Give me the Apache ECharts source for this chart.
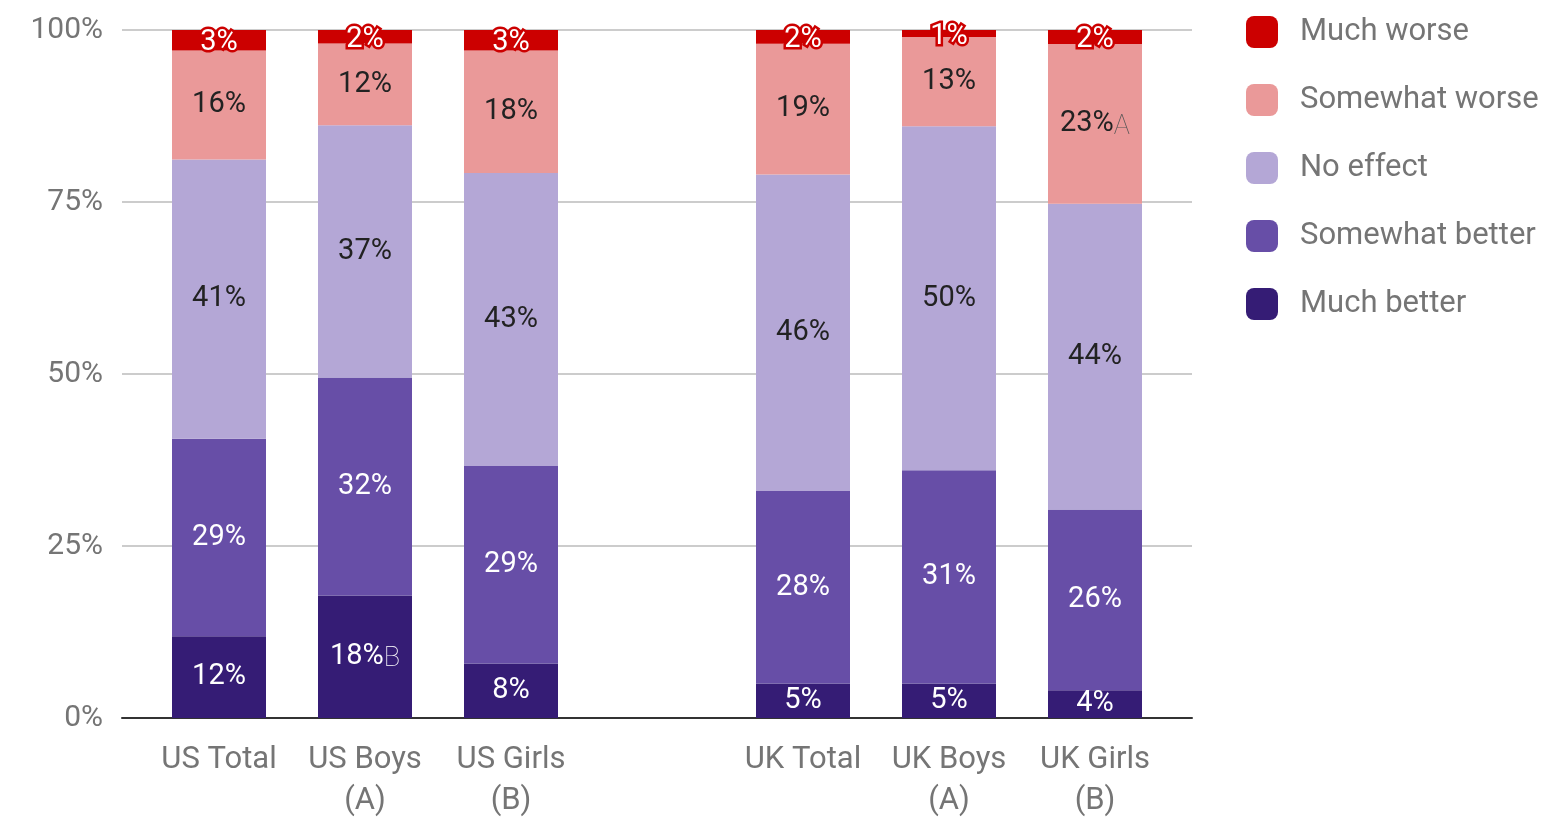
<!DOCTYPE html>
<html>
<head>
<meta charset="utf-8">
<script src="https://cdn.jsdelivr.net/npm/echarts@6/dist/echarts.min.js"></script>
<style>
    html, body { margin: 0; padding: 0; background: #fff; }
    #chart { width: 1567px; height: 817px; }
</style>
</head>
<body>
<div id="chart"></div>
<script>
    // categories, with an empty slot between the US and UK groups
    const categories = ['US Total', 'US Boys\n(A)', 'US Girls\n(B)', '', 'UK Total', 'UK Boys\n(A)', 'UK Girls\n(B)'];

    // percentages as printed on the bars
    const muchBetter     = [12, 18, 8,  null, 5,  5,  4];
    const somewhatBetter = [29, 32, 29, null, 28, 31, 26];
    const noEffect       = [41, 37, 43, null, 46, 50, 44];
    const somewhatWorse  = [16, 12, 18, null, 19, 13, 23];
    const muchWorse      = [3,  2,  3,  null, 2,  1,  2];

    // significance letters written after some labels
    const noteMuchBetter    = ['', 'B', '', '', '', '', ''];
    const noteSomewhatWorse = ['', '', '', '', '', '', 'A'];

    const yTicks = [0, 25, 50, 75, 100];

    const seriesNames = ['Much better', 'Somewhat better', 'No effect', 'Somewhat worse', 'Much worse'];
    const colors = ['#351c75', '#674ea7', '#b4a7d6', '#ea9999', '#cc0000'];

    // percent stacking, like the original chart: each bar sums to 100
    let totals = categories.map((c, i) =>
        [muchBetter, somewhatBetter, noEffect, somewhatWorse, muchWorse]
            .reduce((s, arr) => s + (arr[i] == null ? 0 : arr[i]), 0));

    function build(values, notes) {
        return values.map((v, i) => v == null ? '-' : {
            value: v / totals[i] * 100,
            pct: v,
            note: notes ? notes[i] : ''
        });
    }

    function labelFmt(p) {
        let d = p.data;
        return '{v|' + d.pct + '%}' + (d.note ? '{n|' + d.note + '}' : '');
    }

    function makeSeries(name, values, notes, color, textColor, extra) {
        return {
            name: name,
            type: 'bar',
            stack: 'total',
            xAxisIndex: 1,
            yAxisIndex: 1,
            barWidth: 94,
            itemStyle: { color: color },
            label: Object.assign({
                show: true,
                position: 'inside',
                formatter: labelFmt,
                fontFamily: 'Roboto',
                rich: {
                    v: { fontSize: 29, color: textColor, fontFamily: 'Roboto' },
                    n: { fontSize: 27, color: textColor == '#fff' ? '#fff' : '#555', fontFamily: 'Roboto', fontWeight: 'lighter', padding: [6, 0, 0, 0] }
                }
            }, extra || {}),
            data: build(values, notes)
        };
    }

    let myChart = echarts.init(document.getElementById('chart'));

    let option = {
        animation: false,
        legend: {
            orient: 'vertical',
            left: 1246,
            top: 16,
            padding: 0,
            itemWidth: 32,
            itemHeight: 32,
            itemGap: 36,
            icon: 'roundRect',
            selectedMode: false,
            textStyle: {
                fontSize: 31,
                color: '#757575',
                fontFamily: 'Roboto',
                padding: [0, 0, 0, 17]
            },
            data: seriesNames.slice().reverse()
        },
        grid: [
            // gridlines + y labels
            { left: 122, right: 375, top: 30, bottom: 99, containLabel: false, outerBoundsMode: 'none' },
            // bars
            { left: 146, right: 399, top: 30, bottom: 99, containLabel: false, outerBoundsMode: 'none' }
        ],
        xAxis: [
            {
                gridIndex: 0,
                type: 'value',
                min: 0,
                max: 1,
                axisLine: { show: true, lineStyle: { color: '#333', width: 2 } },
                axisTick: { show: false },
                axisLabel: { show: false },
                splitLine: { show: false }
            },
            {
                gridIndex: 1,
                type: 'category',
                data: categories,
                axisLine: { show: false },
                axisTick: { show: false },
                axisLabel: {
                    interval: 0,
                    color: '#757575',
                    fontSize: 31,
                    fontFamily: 'Roboto',
                    lineHeight: 41,
                    margin: 22
                }
            }
        ],
        yAxis: [
            {
                gridIndex: 0,
                type: 'value',
                min: yTicks[0],
                max: yTicks[yTicks.length - 1],
                interval: 25,
                axisLine: { show: false },
                axisTick: { show: false },
                axisLabel: {
                    formatter: '{value}%',
                    color: '#757575',
                    fontSize: 30,
                    fontFamily: 'Roboto',
                    margin: 19
                },
                splitLine: { lineStyle: { color: '#cccccc', width: 2 } }
            },
            {
                gridIndex: 1,
                type: 'value',
                min: 0,
                max: 100,
                show: false,
                splitLine: { show: false }
            }
        ],
        series: [
            makeSeries('Much better', muchBetter, noteMuchBetter, colors[0], '#fff'),
            makeSeries('Somewhat better', somewhatBetter, null, colors[1], '#fff'),
            makeSeries('No effect', noEffect, null, colors[2], '#222'),
            makeSeries('Somewhat worse', somewhatWorse, noteSomewhatWorse, colors[3], '#222'),
            makeSeries('Much worse', muchWorse, null, colors[4], '#fff', {
                rich: {
                    v: { fontSize: 29, color: '#fff', fontFamily: 'Roboto', textBorderColor: '#cc0000', textBorderWidth: 5, padding: [6, 0, 0, 0] }
                }
            })
        ]
    };

    myChart.setOption(option);
</script>
</body>
</html>
